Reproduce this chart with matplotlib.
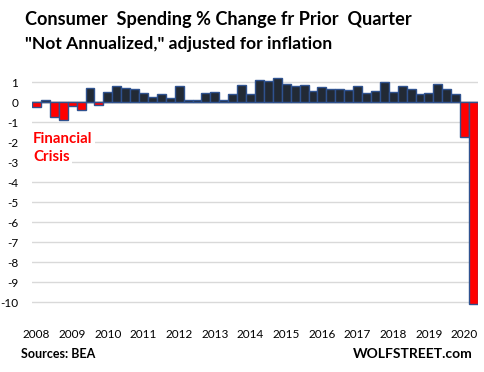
import matplotlib
matplotlib.use("Agg")
import matplotlib.pyplot as plt
import numpy as np

plt.rcParams['font.family'] = ['Lato', 'DejaVu Sans']

years = list(range(2008, 2021))
values = [-0.25, 0.13, -0.75, -0.9,
          -0.2, -0.4, 0.7, -0.15,
          0.5, 0.8, 0.7, 0.65,
          0.45, 0.25, 0.4, 0.2,
          0.8, 0.13, 0.13, 0.45,
          0.5, 0.1, 0.4, 0.85,
          0.4, 1.1, 1.05, 1.2,
          0.9, 0.8, 0.85, 0.55,
          0.75, 0.65, 0.65, 0.6,
          0.8, 0.45, 0.55, 1.0,
          0.5, 0.8, 0.65, 0.4,
          0.45, 0.9, 0.65, 0.4,
          -1.75, -10.1]
yticks = [1, 0, -1, -2, -3, -4, -5, -6, -7, -8, -9, -10]

fig = plt.figure(figsize=(4.85, 3.72), dpi=100)
ax = fig.add_axes([32/485, (372-308.3)/372, (478-32)/485, (308.3-72.3)/372])

x = np.arange(len(values))
colors = ['#ff0000' if v < 0 else '#222a35' for v in values]
ax.bar(x, values, width=1.0, color=colors, edgecolor='#2f528f', linewidth=1.0, zorder=3)

ax.set_xlim(-0.5, len(values) - 0.5)
ax.set_ylim(-10.3, 1.5)
ax.set_yticks(yticks)
ax.set_yticklabels([str(t) for t in yticks], fontsize=8.5)
ax.yaxis.grid(True, color='#d9d9d9', linewidth=1.0, zorder=0)
ax.axhline(0, color='#c8c8c8', linewidth=1.8, zorder=2)
ax.set_xticks([i * 4 for i in range(len(years))])
ax.set_xticklabels([str(y) for y in years], fontsize=8.5)
ax.tick_params(axis='both', length=0)
ax.tick_params(axis='x', pad=15)
ax.tick_params(axis='y', pad=10)
for s in ax.spines.values():
    s.set_visible(False)

fig.text(25/485, 1 - 20/372, 'Consumer  Spending % Change fr Prior  Quarter',
         fontsize=13.1, fontweight='bold', va='center', ha='left')
fig.text(25/485, 1 - 44/372, '"Not Annualized," adjusted for inflation',
         fontsize=12.6, fontweight='bold', va='center', ha='left')
box = dict(facecolor='white', edgecolor='none', pad=1.5)
fig.text(33/485, 1 - 139/372, 'Financial', color='#ff0000',
         fontsize=10.8, fontweight='bold', va='center', ha='left', bbox=box, zorder=5)
fig.text(33/485, 1 - 157.5/372, 'Crisis', color='#ff0000',
         fontsize=10.8, fontweight='bold', va='center', ha='left', bbox=box, zorder=5)
fig.text(21/485, 1 - 354/372, 'Sources: BEA', fontsize=9,
         fontweight='bold', va='center', ha='left')
fig.text(473/485, 1 - 354/372, 'WOLFSTREET.com', fontsize=10,
         fontweight='bold', va='center', ha='right')

fig.savefig('out.png', dpi=100)
